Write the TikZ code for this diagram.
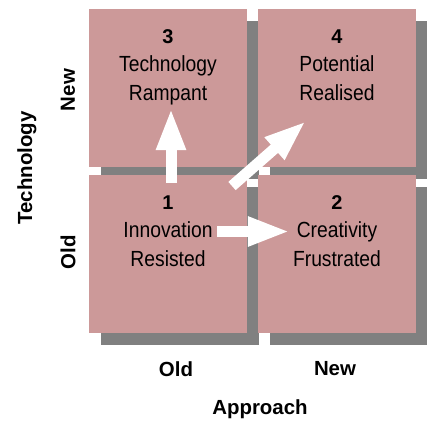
\documentclass[tikz,border=0pt]{standalone}
\usepackage{fontspec}
\setmainfont{Liberation Sans}
\newfontfamily\narrowsans[FakeStretch=0.88]{Liberation Sans}
\usetikzlibrary{shadows,arrows.meta}
\definecolor{quadpink}{HTML}{CC9999}
\definecolor{quadshadow}{HTML}{808080}
\begin{document}
\begin{tikzpicture}[x=1bp,y=-1bp,
  quad/.style={fill=quadpink, minimum width=158bp, minimum height=158bp,
    inner sep=0pt, drop shadow={shadow xshift=12bp, shadow yshift=-12bp,
    fill=quadshadow, opacity=1}},
  num/.style={anchor=base, inner sep=0pt, font=\fontsize{20}{20}\selectfont\bfseries},
  lbl/.style={anchor=base, inner sep=0pt, align=center,
    font=\narrowsans\fontsize{22}{28.5}\selectfont},
  axis/.style={inner sep=0pt, font=\fontsize{20.5}{20.5}\selectfont\bfseries},
  bigarrow/.style={white, line width=11bp,
    -{Triangle[width=27bp,length=42bp]}}]
\useasboundingbox (0,0) rectangle (427,423);

% quadrants with their shadows
\node[quad] (q3) at (168,88) {};
\node[quad] (q4) at (337,88) {};
\node[quad] (q1) at (168,254) {};
\node[quad] (q2) at (337,254) {};

% quadrant texts (label nodes sit on the baseline of their last line)
\node[num] (n3) at (168,43) {3};
\node[lbl] (t3) at (168,100) {Technology\\Rampant};
\node[num] (n4) at (337,43) {4};
\node[lbl] (t4) at (337,100) {Potential\\Realised};
\node[num] (n1) at (168,209) {1};
\node[lbl] (t1) at (168,266) {Innovation\\Resisted};
\node[num] (n2) at (337,209) {2};
\node[lbl] (t2) at (337,266) {Creativity\\Frustrated};

% axis labels
\node[axis, rotate=90] (ynew) at (68,90) {New};
\node[axis, rotate=90] (yold) at (68,252) {Old};
\node[axis, rotate=90] (ytitle) at (27,168) {Technology};
\node[axis] (xold) at (176,369) {Old};
\node[axis] (xnew) at (335,369) {New};
\node[axis] (xtitle) at (260,409) {Approach};

% transition arrows
\coordinate (upfrom) at (171,183);
\coordinate (upto) at (171,108);
\coordinate (rtfrom) at (217,231.5);
\coordinate (rtto) at (290,231.5);
\coordinate (dgfrom) at (232,186);
\coordinate (dgto) at (306,121);
\draw[bigarrow] (upfrom) -- (upto);
\draw[bigarrow] (rtfrom) -- (rtto);
\draw[bigarrow] (dgfrom) -- (dgto);
\end{tikzpicture}
\end{document}
